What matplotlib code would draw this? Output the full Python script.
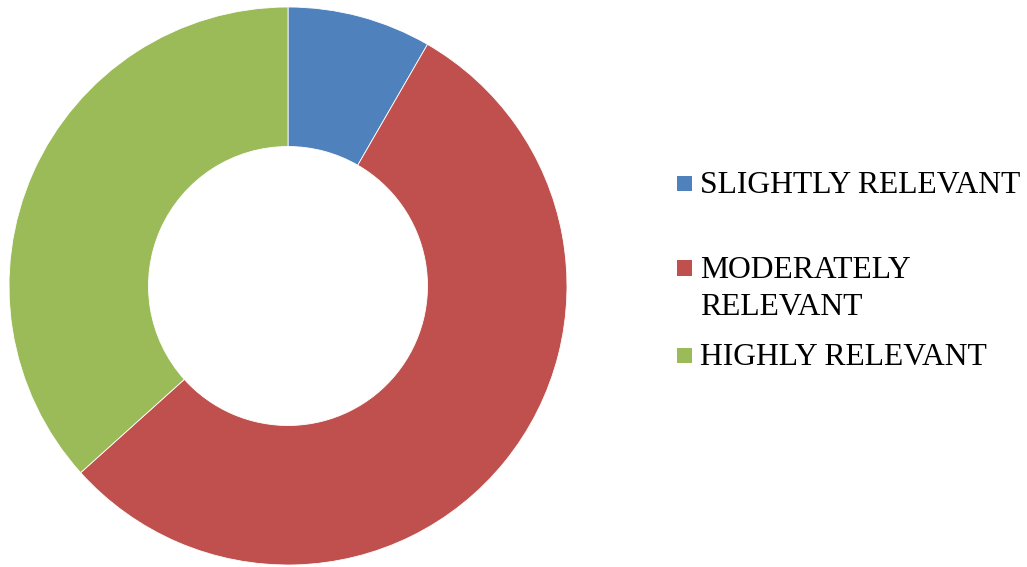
#!/usr/bin/env python3

import matplotlib

matplotlib.use("Agg")
import matplotlib.pyplot as plt
from matplotlib.patches import Rectangle

CATEGORIES = ["SLIGHTLY RELEVANT", "MODERATELY\nRELEVANT", "HIGHLY RELEVANT"]
COUNTS = [5, 33, 22]
COLORS = ["#4F81BD", "#C0504D", "#9BBB59"]

FIG_W, FIG_H, DPI = 1027, 567, 100
LINE_PX = 37  # distance between baselines in a wrapped legend label


def px_box(x0: float, y_top: float, w: float, h: float) -> list[float]:
    # pixel box (from top-left) -> figure fraction [left, bottom, width, height]
    return [x0 / FIG_W, (FIG_H - y_top - h) / FIG_H, w / FIG_W, h / FIG_H]


def draw_donut(fig: plt.Figure) -> None:
    ax = fig.add_axes(px_box(9, 7, 558, 558))
    ax.pie(
        COUNTS,
        colors=COLORS,
        startangle=90,
        counterclock=False,
        radius=1.0,
        wedgeprops={"width": 0.5, "edgecolor": "white", "linewidth": 0.6},
    )
    ax.set_xlim(-1, 1)
    ax.set_ylim(-1, 1)
    ax.set_aspect("equal")
    ax.axis("off")


def draw_legend(fig: plt.Figure) -> None:
    # Excel-style legend: square swatch and serif label per entry
    swatch_centres = [183, 268, 355]
    for label, color, yc in zip(CATEGORIES, COLORS, swatch_centres):
        x0, y0, _, _ = px_box(677, yc - 7.5, 15, 15)
        fig.patches.append(
            Rectangle(
                (x0, y0),
                15 / FIG_W,
                15 / FIG_H,
                transform=fig.transFigure,
                facecolor=color,
                edgecolor="none",
            )
        )
        # baseline alignment here sits on the last line of a wrapped label
        last_baseline = yc + 10 + (label.count("\n")) * LINE_PX
        fig.text(
            700 / FIG_W,
            (FIG_H - last_baseline) / FIG_H,
            label,
            fontsize=22.8,
            family="Liberation Serif",
            color="black",
            ha="left",
            va="baseline",
            linespacing=1.37,
        )


def main() -> int:
    fig = plt.figure(figsize=(FIG_W / DPI, FIG_H / DPI), dpi=DPI)
    fig.patch.set_facecolor("white")
    draw_donut(fig)
    draw_legend(fig)
    fig.savefig("out.png", dpi=DPI, facecolor="white")
    plt.close(fig)
    return 0


if __name__ == "__main__":
    raise SystemExit(main())
